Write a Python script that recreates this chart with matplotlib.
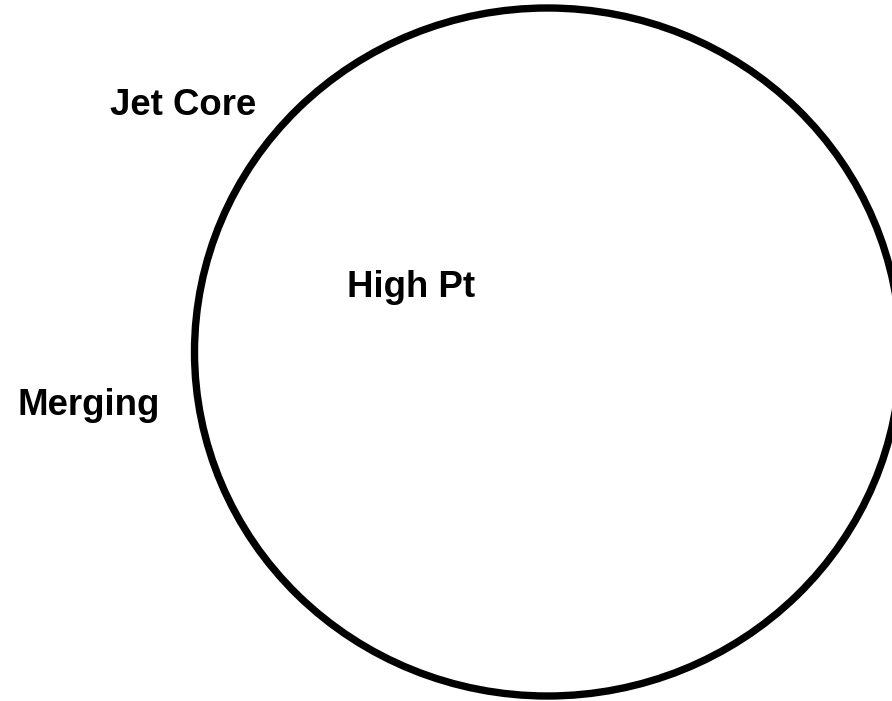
import matplotlib
matplotlib.use('Agg')
import matplotlib.pyplot as plt
from matplotlib.patches import Ellipse

plt.rcParams.update({
    "font.family": ["Liberation Sans", "DejaVu Sans"],
    "font.weight": "bold",
})

# region labels and where they sit (pixel-like data units, y down)
labels = ['Jet Core', 'Merging', 'High Pt']
label_x = [110, 17, 347]
label_y = [115, 415, 297]

# the one circle drawn (slightly squashed, as in the original)
circle_center = (547.5, 352)
circle_w = 706
circle_h = 688

fig = plt.figure(figsize=(8.92, 7.01), dpi=100)
ax = fig.add_axes([0, 0, 1, 1])
ax.set_xlim(0, 892)
ax.set_ylim(701, 0)
ax.axis('off')

ax.add_patch(Ellipse(circle_center, circle_w, circle_h, fill=False,
                     edgecolor='black', linewidth=5.3))

for lab, x, y in zip(labels, label_x, label_y):
    ax.text(x, y, lab, fontsize=26.4, fontweight='bold', ha='left', va='baseline')

fig.savefig('out.png', dpi=100, facecolor='white')
